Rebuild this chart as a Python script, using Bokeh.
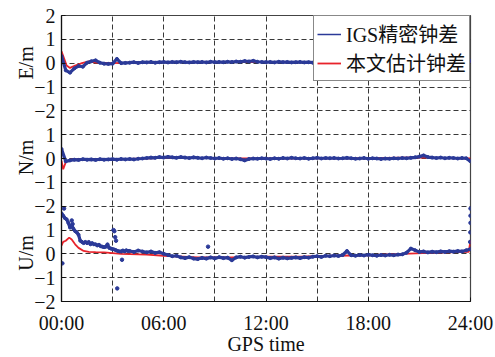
import numpy as np
from bokeh.plotting import figure
from bokeh.models import Range1d, FixedTicker, Legend, LegendItem
from bokeh.embed import file_html
from bokeh.resources import INLINE

# ---------------- data ----------------
t_q = np.arange(0, 24.001, 0.25)  # quarter-hour epochs (97)

e_igs = [0.30, -0.30, -0.40, -0.22, -0.12, -0.15, 0.02, 0.08, 0.12, 0.02, -0.02, -0.03, -0.02, 0.18, 0.00, 0.01,
         0.02, 0.04, 0.01, 0.04, 0.03, 0.05, 0.02, 0.04, 0.05, 0.03, 0.05, 0.04, 0.06, 0.04, 0.03, 0.05,
         0.04, 0.05, 0.03, 0.06, 0.04, 0.05, 0.04, 0.06, 0.05, 0.07, 0.06, 0.09, 0.07, 0.10, 0.06, 0.05,
         0.04, 0.05, 0.03, 0.06, 0.04, 0.05, 0.03, 0.04, 0.05, 0.03, 0.04, 0.02, 0.04, 0.03, 0.02, 0.03,
         0.02, 0.00, 0.01, -0.02, 0.00, -0.03, -0.01, -0.04, -0.02, -0.04, -0.03, -0.05, -0.03, -0.05, -0.04, -0.03,
         -0.05, -0.08, -0.12, -0.07, -0.04, -0.02, 0.00, 0.01, 0.00, 0.02, 0.01, 0.00, 0.02, 0.01, 0.03, 0.02,
         0.10]
e_est_t = [0, 0.15, 0.3, 0.5, 0.8, 1.2, 1.6, 2, 3, 4, 6, 9, 12, 15, 18, 21, 24]
e_est = [0.50, 0.20, -0.10, -0.20, -0.10, 0.00, 0.08, 0.02, 0.00, 0.02, 0.04, 0.05, 0.05, 0.04, 0.00, -0.06, 0.06]

n_igs = [0.40, -0.12, -0.08, -0.05, -0.06, -0.03, -0.05, -0.04, -0.06, -0.03, -0.05, -0.04, -0.03, -0.05, -0.02, -0.04,
         -0.02, -0.04, -0.01, 0.00, 0.02, 0.04, 0.03, 0.06, 0.04, 0.07, 0.05, 0.03, 0.06, 0.04, 0.02, 0.05,
         0.03, 0.01, 0.04, 0.02, 0.00, 0.02, -0.01, 0.01, -0.02, 0.00, -0.03, -0.08, -0.02, 0.00, -0.01, 0.01,
         0.00, -0.02, 0.01, -0.01, 0.02, 0.00, 0.03, 0.01, 0.00, 0.02, -0.01, 0.01, 0.03, 0.00, 0.02, 0.01,
         0.02, 0.00, 0.01, 0.03, 0.01, -0.01, 0.00, 0.02, -0.01, 0.01, 0.00, -0.02, 0.00, -0.01, 0.01, 0.00,
         0.02, 0.01, 0.03, 0.05, 0.08, 0.13, 0.06, 0.04, 0.02, 0.04, 0.01, 0.03, 0.02, 0.00, 0.02, 0.01,
         -0.12]
n_est_t = [0, 0.1, 0.25, 0.5, 1, 2, 4, 6, 8, 10, 12, 15, 18, 21, 22, 24]
n_est = [-0.10, -0.45, -0.15, -0.05, -0.03, -0.03, -0.02, 0.03, 0.03, 0.00, 0.00, 0.01, 0.01, 0.05, 0.03, 0.00]

t_u = np.concatenate([np.arange(0, 3.95, 0.1), np.arange(4, 24.001, 0.25)])  # 40 + 81 epochs
u_igs = [1.70, 1.60, 1.50, 1.45, 1.30, 1.10, 1.20, 1.05, 0.95, 0.90,
         0.80, 0.55, 0.50, 0.45, 0.50, 0.45, 0.50, 0.40, 0.45, 0.40,
         0.40, 0.35, 0.38, 0.32, 0.30, 0.28, 0.30, 0.40, 0.25, 0.22,
         0.20, 0.18, 0.15, 0.12, 0.10, 0.10, 0.14, 0.10, 0.15, 0.12,
         0.12, 0.08, 0.14, 0.10, 0.06, 0.10, 0.04, 0.07,
         0.00, -0.05, -0.10, -0.08, -0.15, -0.18, -0.14, -0.20,
         -0.22, -0.17, -0.20, -0.15, -0.19, -0.14, -0.18, -0.16,
         -0.27, -0.15, -0.12, -0.16, -0.13, -0.11, -0.15, -0.12,
         -0.14, -0.18, -0.15, -0.20, -0.16, -0.19, -0.17, -0.15,
         -0.18, -0.14, -0.16, -0.12, -0.10, -0.13, -0.08, -0.10,
         -0.07, -0.09, -0.05, 0.12, -0.06, -0.08, -0.05, -0.07,
         -0.04, -0.06, -0.08, -0.05, -0.07, -0.04, -0.06, -0.03,
         -0.02, 0.05, 0.22, 0.15, 0.08, 0.10, 0.06, 0.09,
         0.07, 0.10, 0.08, 0.11, 0.09, 0.12, 0.10, 0.15,
         0.20]
u_igs_sc_t = [0.05, 0.15, 0.6, 0.65, 3.05, 3.1, 3.15, 3.2, 3.27, 3.55, 8.6, 23.98, 23.99, 24.0, 24.0, 24.0]
u_igs_sc = [-0.40, 1.90, 1.40, 1.25, 1.00, 0.95, 0.70, 0.55, -1.45, -0.25, 0.30, 0.50, 0.90, 1.30, 1.60, 1.90]
u_est_t = [0, 0.1, 0.25, 0.45, 0.6, 0.8, 1.0, 1.3, 1.6, 2.0, 2.5, 3.0, 3.5, 4, 5, 6, 8, 10, 12, 14, 16, 18, 20, 22, 23.9, 24]
u_est = [0.35, 0.50, 0.55, 0.68, 0.60, 0.40, 0.25, 0.12, 0.08, 0.07, 0.06, 0.03, 0.00, -0.01, -0.03, -0.08,
         -0.15, -0.15, -0.12, -0.12, -0.08, -0.06, 0.00, 0.05, 0.08, 0.57]

x_tick_vals = [0, 6, 12, 18, 24]
x_tick_text = ["00:00", "06:00", "12:00", "18:00", "24:00"]
y_tick_vals = list(range(-2, 11))
y_tick_text = ["\u22122", "\u22121", "0", "1", "\u22122", "\u22121", "0", "1", "\u22122", "\u22121", "0", "1", "2"]
panel_labels = ["U/m", "N/m", "E/m"]  # bottom to top
x_label = "GPS time"
legend_labels = ["IGS精密钟差", "本文估计钟差"]

BLUE = "#2b3a98"
RED = "#e8232b"
FONT = "Liberation Serif, Noto Sans CJK SC"
INK = "#111111"

# ---------------- figure ----------------
p = figure(width=495, height=357, output_backend="svg", toolbar_location=None,
           x_range=Range1d(0, 24), y_range=Range1d(-2, 10),
           min_border_left=61, min_border_right=25, min_border_top=15, min_border_bottom=53)
p.extra_y_ranges = {"E": Range1d(-10, 2), "N": Range1d(-6, 6)}

p.background_fill_color = "white"
p.border_fill_color = "white"
p.outline_line_color = "#444444"
p.outline_line_width = 1.2

# grid
p.xgrid.ticker = FixedTicker(ticks=[3, 6, 9, 12, 15, 18, 21])
p.ygrid.ticker = FixedTicker(ticks=list(range(-1, 10)))
for g in (p.xgrid, p.ygrid):
    g.grid_line_color = "#222222"
    g.grid_line_dash = "5 3"
    g.grid_line_width = 1
    g.grid_line_alpha = 0.9

# axes
p.xaxis.ticker = FixedTicker(ticks=x_tick_vals)
p.xaxis.major_label_overrides = dict(zip(x_tick_vals, x_tick_text))
p.yaxis.ticker = FixedTicker(ticks=y_tick_vals)
p.yaxis.major_label_overrides = dict(zip(y_tick_vals, y_tick_text))
for ax in (p.xaxis, p.yaxis):
    ax.axis_line_color = INK
    ax.axis_line_width = 1.2
    ax.major_tick_in = 4
    ax.major_tick_out = 0
    ax.minor_tick_line_color = None
    ax.major_tick_line_color = INK
    ax.major_label_text_font = FONT
    ax.major_label_text_font_size = "20px"
    ax.major_label_text_color = INK
    ax.axis_label_text_font = FONT
    ax.axis_label_text_font_size = "20px"
    ax.axis_label_text_font_style = "normal"
    ax.axis_label_text_color = INK
p.xaxis.major_label_standoff = 10
p.yaxis.major_label_standoff = 6
p.xaxis.axis_label = x_label
p.xaxis.axis_label_standoff = -4
# three panel labels on the single left axis, separated by no-break spaces
gap = "\u00a0" * 12
p.yaxis.axis_label = gap.join(panel_labels)
p.yaxis.axis_label_standoff = -6

# series: estimated (red) below, IGS (blue) on top
r_est = p.line(u_est_t, u_est, color=RED, line_width=1.8)
p.line(e_est_t, e_est, color=RED, line_width=1.8, y_range_name="E")
p.line(n_est_t, n_est, color=RED, line_width=1.8, y_range_name="N")

r_igs = p.line(t_q, e_igs, color=BLUE, line_width=1.5, y_range_name="E")  # thin core (legend glyph)
p.line(t_q, e_igs, color=BLUE, line_width=3.2, y_range_name="E")
p.scatter(t_q, e_igs, color=BLUE, size=3, y_range_name="E")
p.line(t_q, n_igs, color=BLUE, line_width=3.2, y_range_name="N")
p.scatter(t_q, n_igs, color=BLUE, size=3, y_range_name="N")
p.line(t_u, u_igs, color=BLUE, line_width=3.2)
p.scatter(t_u, u_igs, color=BLUE, size=3)
p.scatter(u_igs_sc_t, u_igs_sc, color=BLUE, size=3.5)

legend = Legend(items=[LegendItem(label=legend_labels[0], renderers=[r_igs]),
                       LegendItem(label=legend_labels[1], renderers=[r_est])],
                location="top_right", label_text_font=FONT, label_text_font_size="20px",
                label_text_color=INK,
                label_height=19, glyph_height=16, glyph_width=24,
                label_standoff=5, spacing=-7, padding=3, margin=0,
                border_line_color=INK, border_line_width=1.2,
                background_fill_color="white", background_fill_alpha=1)
p.add_layout(legend)

open("out.html", "w").write(file_html(p, INLINE))
